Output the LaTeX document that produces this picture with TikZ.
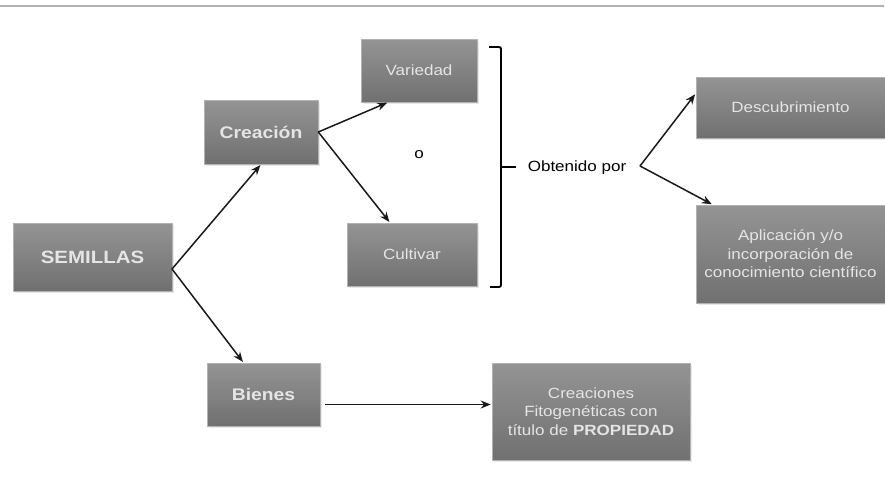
\documentclass[tikz,border=0pt]{standalone}
\usepackage{fontspec}
\setmainfont{Liberation Sans}[FakeStretch=1.15]
\usetikzlibrary{arrows.meta,positioning,shadows}

\begin{document}
\begin{tikzpicture}[x=1pt,y=-1pt,>={Stealth[length=10pt,width=8pt]},shorten >=1pt]
  \tikzstyle{every node}=[font=\fontsize{14.8}{18.5}\selectfont]
  \tikzstyle{box}=[rectangle,inner sep=0pt,align=center,text=black!10,
    top color=black!42,bottom color=black!56,draw=black!30,line width=0.6pt,
    drop shadow={opacity=0.18,shadow xshift=1.5pt,shadow yshift=-1.5pt}]
  \tikzstyle{heavy}=[font=\fontsize{16.8}{20}\selectfont\bfseries]
  \tikzstyle{link}=[line width=1.5pt,black!90]
  \useasboundingbox (0,0) rectangle (885,482);
  \draw[black!30,line width=1.5pt] (0,6) -- (885,6);

  \node[box,heavy,font=\fontsize{17.8}{20}\selectfont\bfseries,
    minimum width=159pt,minimum height=68pt] (sem) at (92.5,257) {SEMILLAS};
  \node[box,heavy,minimum width=114pt,minimum height=64pt] (cre) at (261,132) {Creación};
  \node[box,heavy,minimum width=113pt,minimum height=63pt] (bie) at (263.5,394.5) {Bienes};
  \node[box,minimum width=116pt,minimum height=63pt] (var) at (419,70.5) {Variedad};
  \node[box,minimum width=130pt,minimum height=63pt] (cul) at (412,254.5) {Cultivar};
  \node (ooo) at (419,155) {o};

  \node (obt) at (577,168) {Obtenido por};
  \node[box,minimum width=189pt,minimum height=61pt] (des) at (790.5,107.5) {Descubrimiento};
  \node[box,minimum width=189pt,minimum height=98pt] (apl) at (790.5,254)
    {Aplicación y/o\\incorporación de\\conocimiento científico};
  \node[box,minimum width=198pt,minimum height=97pt] (fit) at (591,411.5)
    {Creaciones\\Fitogenéticas con\\título de \textbf{PROPIEDAD}};

  % bracket
  \draw[line width=1.9pt,rounded corners=2pt] (489,47) -- (501,47) -- (501,287) -- (489,287);
  \draw[line width=1.9pt] (501,167) -- (517,167);

  \coordinate (fork) at (172,269);
  \coordinate (split) at (640,166);
  \coordinate (bout) at ([xshift=5pt,yshift=-10pt]bie.east);

  \path[->,link]
  (fork) edge (cre.south)
  (fork) edge ([xshift=-20pt]bie.north)
  (cre.east) edge ([xshift=-31pt]var.south)
  (cre.east) edge ([xshift=-22pt]cul.north)
  (split) edge ([yshift=14pt]des.west)
  (split) edge ([xshift=17pt]apl.north west)
  (bout) edge (bout -| fit.west);
\end{tikzpicture}
\end{document}
